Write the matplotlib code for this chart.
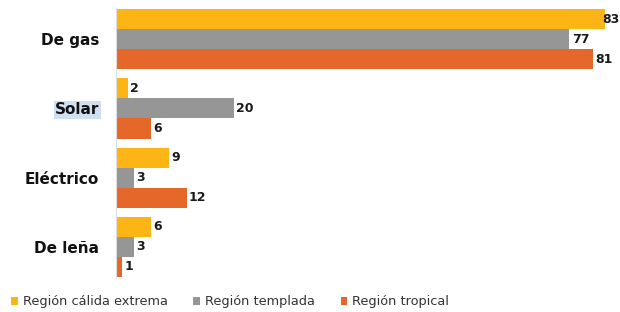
import numpy as np
import matplotlib
matplotlib.use("Agg")
import matplotlib.pyplot as plt

# ── DATA ──────────────────────────────────────────────────────────────────────
categories = ["De gas", "Solar", "Eléctrico", "De leña"]
series     = ["Región cálida extrema", "Región templada", "Región tropical"]
calida     = [83, 2, 9, 6]
templada   = [77, 20, 3, 3]
tropical   = [81, 6, 12, 1]

COLORS = ["#FDB515", "#969696", "#E5682A"]

# ── PLOT ──────────────────────────────────────────────────────────────────────
fig = plt.figure(figsize=(6.2, 3.12), dpi=100)
ax = fig.add_axes([0.187, 0.109, 0.813, 0.865])

XMAX = 85.6
y = np.arange(len(categories))
h = 0.29
for i, (name, vals, c) in enumerate(zip(series, [calida, templada, tropical], COLORS)):
    pos = y + (i - 1) * h
    ax.barh(pos, vals, height=h, color=c, label=name)
    for p, v in zip(pos, vals):
        # la etiqueta se recorre si no cabe en el borde
        ax.text(min(v + 0.4, XMAX - 3.0), p, f"{v}", va="center", ha="left",
                fontsize=9, fontweight="bold", color="#1a1a1a", clip_on=False)

ax.set_xlim(0, XMAX)
ax.set_ylim(3.45, -0.45)
ax.set_yticks(y)
ax.set_yticklabels(categories, fontsize=11, fontweight="bold", color="#111111")
ax.tick_params(axis="y", length=0, pad=12)
ax.set_xticks([])
for s in ["top", "right", "bottom"]:
    ax.spines[s].set_visible(False)
ax.spines["left"].set_color("#dddddd")
ax.spines["left"].set_linewidth(0.8)

# resaltado de "Solar"
ax.get_yticklabels()[1].set_bbox(dict(facecolor="#cfe0f0", edgecolor="none", pad=1))

leg = fig.legend(loc="center left", bbox_to_anchor=(0.018, 10 / 312), ncol=3,
                 frameon=False, fontsize=9.3, handlelength=0.5, handleheight=0.5,
                 handletextpad=0.4, columnspacing=2.0, borderpad=0,
                 borderaxespad=0)
for t in leg.get_texts():
    t.set_color("#333333")

plt.savefig("out.png", dpi=100)
